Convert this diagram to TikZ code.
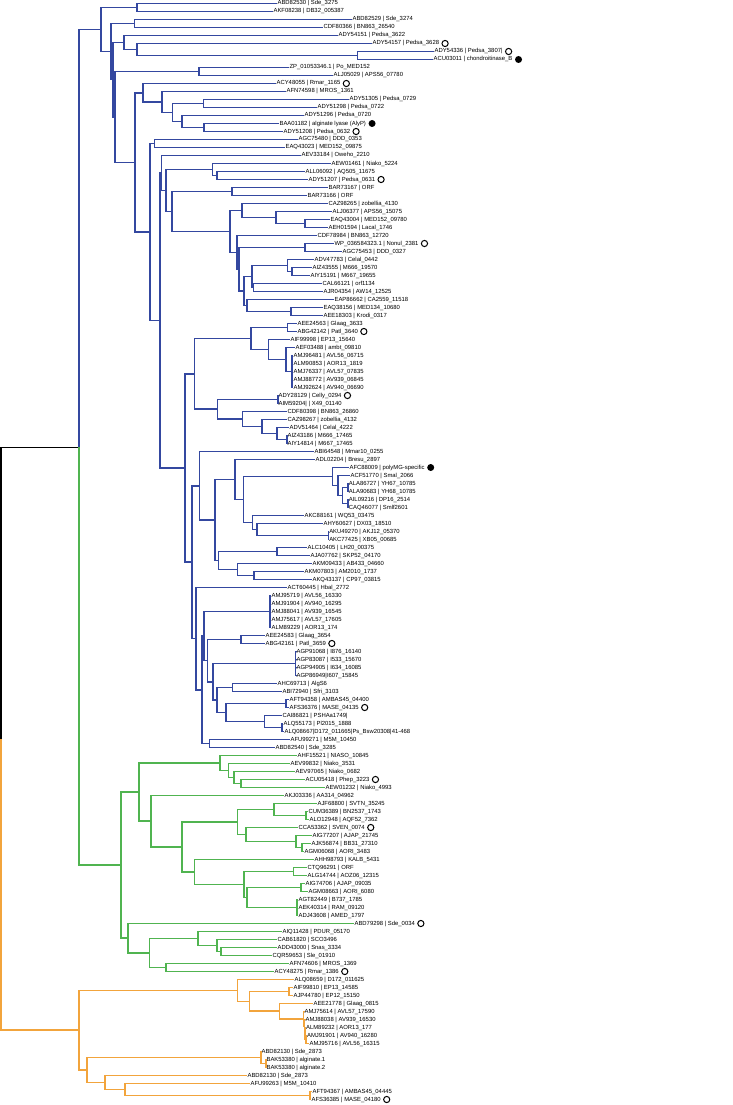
\documentclass[tikz,border=0pt]{standalone}
\usepackage{fontspec}
\setmainfont{Liberation Sans}
\usetikzlibrary{positioning}
\definecolor{cladeblue}{RGB}{52,72,160}
\definecolor{cladegreen}{RGB}{80,180,80}
\definecolor{cladeorange}{RGB}{242,164,60}
\tikzset{
    tip/.style={anchor=west, inner sep=0.4pt, text height=4.2pt, text depth=1.2pt,
        text=black, font=\fontsize{5.9}{6}\selectfont},
    bluebr/.style={draw=cladeblue, line width=1.6pt},
    greenbr/.style={draw=cladegreen, line width=1.6pt},
    orangebr/.style={draw=cladeorange, line width=1.6pt},
    rootbr/.style={draw=black, line width=1.6pt},
    openmark/.style={circle, draw=black, line width=1pt, minimum size=6.2pt, inner sep=0pt},
    fullmark/.style={circle, fill=black, minimum size=7pt, inner sep=0pt}
}
\begin{document}
\begin{tikzpicture}[x=1pt, y=-1pt]
    \useasboundingbox (0,0) rectangle (732,1105);
    \begin{scope}[yshift=0.2pt]
    % Hojas (index / tip x / label)
    \foreach \i/\tx/\lab in {
        1/277/{ABD82530 | Sde\_3275}, 2/273/{AKF08238 | DB32\_005387},
        3/352/{ABD82529 | Sde\_3274}, 4/323/{CDF80366 | BN863\_26540},
        5/338/{ADY54151 | Pedsa\_3622}, 6/372/{ADY54157 | Pedsa\_3628},
        7/434/{ADY54336 | Pedsa\_3807|}, 8/433/{ACU03011 | chondroitinase\_B},
        9/289/{ZP\_01053346.1 | Po\_MED152}, 10/333/{ALJ05029 | APS56\_07780},
        11/276/{ACY48055 | Rmar\_1165}, 12/286/{AFN74598 | MROS\_1361},
        13/349/{ADY51305 | Pedsa\_0729}, 14/317/{ADY51298 | Pedsa\_0722},
        15/304/{ADY51296 | Pedsa\_0720}, 16/279/{BAA01182 | alginate lyase (AlyP)},
        17/283/{ADY51208 | Pedsa\_0632}, 18/298/{AGC75480 | DDD\_0353},
        19/285/{EAQ43023 | MED152\_09875}, 20/301/{AEV33184 | Oweho\_2210},
        21/331/{AEW01461 | Niako\_5224}, 22/305/{ALL06092 | AQ505\_11675},
        23/308/{ADY51207 | Pedsa\_0631}, 24/328/{BAR73167 | ORF},
        25/307/{BAR73166 | ORF}, 26/328/{CAZ98265 | zobellia\_4130},
        27/332/{ALJ06377 | APS56\_15075}, 28/330/{EAQ43004 | MED152\_09780},
        29/328/{AEH01594 | Lacal\_1746}, 30/317/{CDF78984 | BN863\_12720},
        31/334/{WP\_036584323.1 | Nonul\_2381}, 32/342/{AGC75453 | DDD\_0327},
        33/314/{ADV47783 | Celal\_0442}, 34/312/{AIZ43555 | M666\_19570},
        35/310/{AIY15191 | M667\_19655}, 36/322/{CAL66121 | orf1134},
        37/323/{AJR04354 | AW14\_12525}, 38/334/{EAP86662 | CA2559\_11518},
        39/323/{EAQ38156 | MED134\_10680}, 40/323/{AEE18303 | Krodi\_0317},
        41/297/{AEE24563 | Glaag\_3633}, 42/297/{ABG42142 | Patl\_3640},
        43/290/{AIF99998 | EP13\_15640}, 44/295/{AEF03488 | ambt\_09810},
        45/293/{AMJ96481 | AVL56\_06715}, 46/293/{ALM90853 | AOR13\_1819},
        47/293/{AMJ76337 | AVL57\_07835}, 48/293/{AMJ88772 | AV939\_06845},
        49/293/{AMJ92624 | AV940\_06690}, 50/278/{ADY28129 | Celly\_0294},
        51/278/{AIM59204| | X49\_01140}, 52/287/{CDF80398 | BN863\_26860},
        53/287/{CAZ98267 | zobellia\_4132}, 54/289/{ADV51464 | Celal\_4222},
        55/287/{AIZ43186 | M666\_17465}, 56/287/{AIY14814 | M667\_17465},
        57/314/{ABI64548 | Mmar10\_0255}, 58/315/{ADL02204 | Bresu\_2897},
        59/349/{AFC88009 | polyMG-specific}, 60/350/{ACF51770 | Smal\_2066},
        61/348.3/{ALA86727 | YH67\_10785}, 62/348.3/{ALA90683 | YH68\_10785},
        63/348.3/{AIL09216 | DP16\_2514}, 64/348.3/{CAQ46077 | Smlf2601},
        65/304/{AKC88161 | WQ53\_03475}, 66/323/{AHY60627 | DX03\_18510},
        67/328.7/{AKU49270 | AKJ12\_05370}, 68/328.7/{AKC77425 | XB05\_00685},
        69/307/{ALC10405 | LH20\_00375}, 70/310/{AJA07762 | SKP52\_04170},
        71/312/{AKM09433 | AB433\_04660}, 72/304/{AKM07803 | AM2010\_1737},
        73/312/{AKQ43137 | CP97\_03815}, 74/287/{ACT60445 | Hbal\_2772},
        75/271/{AMJ95719 | AVL56\_16330}, 76/271/{AMJ91904 | AV940\_16295},
        77/271/{AMJ88041 | AV939\_16545}, 78/271/{AMJ75617 | AVL57\_17605},
        79/271/{ALM89229 | AOR13\_174}, 80/265/{AEE24583 | Glaag\_3654},
        81/265/{ABG42161 | Patl\_3659}, 82/296/{AGP91068 | I876\_16140},
        83/296/{AGP83087 | I533\_15670}, 84/296/{AGP94905 | I634\_16085},
        85/296/{AGP86949|I607\_15845}, 86/277/{AHC69713 | AlgS6},
        87/282/{ABI72940 | Sfri\_3103}, 88/289/{AFT94358 | AMBAS45\_04400},
        89/289/{AFS36376 | MASE\_04135}, 90/282/{CAI86821 | PSHAa1749|},
        91/283/{ALQ55173 | Pl2015\_1888}, 92/284/{ALQ08667|D172\_011665|Ps\_Bsw20308|41-468},
        93/290/{AFU99271 | M5M\_10450}, 94/275/{ABD82540 | Sde\_3285},
        95/297/{AHF15521 | NIASO\_10845}, 96/290/{AEV99832 | Niako\_3531},
        97/295/{AEV97065 | Niako\_0682}, 98/305/{ACU05418 | Phep\_3223},
        99/325/{AEW01232 | Niako\_4993}, 100/284/{AKJ03336 | AA314\_04962},
        101/317/{AJF68800 | SVTN\_35245}, 102/308/{CUM36389 | BN2537\_1743},
        103/309/{ALO12948 | AQF52\_7362}, 104/298/{CCA53362 | SVEN\_0074},
        105/312/{AIG77207 | AJAP\_21745}, 106/311/{AJK56874 | BB31\_27310},
        107/304/{AGM06068 | AORI\_3483}, 108/314/{AHH98793 | KALB\_5431},
        109/307/{CTQ96291 | ORF}, 110/307/{ALG14744 | AOZ06\_12315},
        111/305/{AIG74706 | AJAP\_09035}, 112/308/{AGM08663 | AORI\_6080},
        113/298/{AGT82449 | B737\_1785}, 114/298/{AEK40314 | RAM\_09120},
        115/298/{ADJ43608 | AMED\_1797}, 116/354/{ABD79298 | Sde\_0034},
        117/282/{AIQ11428 | PDUR\_05170}, 118/277/{CAB61820 | SCO3496},
        119/277/{ADD43000 | Snas\_3334}, 120/272/{CQR59653 | Sle\_01910},
        121/289/{AFN74606 | MROS\_1369}, 122/274/{ACY48275 | Rmar\_1386},
        123/294/{ALQ08659 | D172\_011625}, 124/293/{AIF99810 | EP13\_14585},
        125/293/{AJP44780 | EP12\_15150}, 126/313/{AEE21778 | Glaag\_0815},
        127/304/{AMJ75614 | AVL57\_17590}, 128/305/{AMJ88038 | AV939\_16530},
        129/305.5/{ALM89232 | AOR13\_177}, 130/306.5/{AMJ91901 | AV940\_16280},
        131/309/{AMJ95716 | AVL56\_16315}, 132/261/{ABD82130 | Sde\_2873},
        133/266/{BAK53380 | alginate.1}, 134/266/{BAK53380 | alginate.2},
        135/247/{ABD82130 | Sde\_2873}, 136/250/{AFU99263 | M5M\_10410},
        137/312/{AFT94367 | AMBAS45\_04445}, 138/311/{AFS36385 | MASE\_04180}}
        \node[tip] (l\i) at (\tx, {8*\i-4.3}) {\lab};
    % Marcas
    \foreach \i in {6,7,11,17,23,31,42,50,81,89,98,104,116,122,138}
        \node[openmark, right=1.8pt of l\i] (m\i) {};
    \foreach \i in {8,16,59}
        \node[fullmark, right=1.8pt of l\i] (m\i) {};
    % Nodos internos (name / x / y)
    \foreach \nm/\nx/\ny in {
        root/1/739, r1x122/79/447.6, r123x138/79/1030.4,
        r1x94/100.7/29.75, r1x2/136.7/7.7, r3x94/111/51.8, r3x4/134.3/23.7,
        r5x94/113/79.9, r5x8/124/42.7, r6x8/136.7/49.7, r7x8/357.3/55.7,
        r9x94/115/117.1, r9x10/199/71.7, r11x94/135/162.6,
        r11x17/142.7/92.95, r12x17/161.7/102.2, r13x17/172.3/112.7,
        r13x14/203.3/103.7, r15x17/181.7/121.7, r16x17/204/127.7,
        r18x94/150/232.2, r18x19/154.3/143.7, r20x94/160/320.7,
        r20x40/161.5/173.2, r21x40/165.7/190.7, r21x23/212.3/169.7, r22x23/216.7/175.7,
        r24x40/171.7/211.7, r24x25/231.7/191.7, r26x40/230/231.6,
        r26x29/241.7/210.7, r27x29/276/217.7, r28x29/305/223.7,
        r30x40/236.7/252.6, r31x40/238.7/269.45, r31x32/305/247.7,
        r33x40/244/291.2, r33x37/251.7/276.7, r33x35/287.3/265.7, r34x35/291.7/271.7,
        r36x37/253.3/287.7, r38x40/247/305.7, r39x40/290.7/311.7,
        r41x94/185/468.25, r41x56/194.3/374.1, r41x49/250.7/338.7, r41x42/287.3/327.7,
        r43x49/268.3/349.7, r44x49/286/359.7, r45x49/292/371.7,
        r50x56/217.3/409.45, r50x51/277.7/399.7, r52x56/242.3/419.2,
        r53x56/261.7/426.7, r54x56/276.7/433.7, r55x56/286.7/439.7,
        r57x94/191.7/562.4, r57x73/199.3/485.95, r58x73/215/520.2,
        r58x68/235/479.7, r59x68/243.3/499.7, r59x64/332.3/476.7, r60x64/337.7/485.7,
        r61x64/342.3/495.7, r61x62/347.7/487.7, r63x64/347.7/503.7,
        r65x68/252.3/522.7, r66x68/256.7/529.7, r67x68/328.3/535.7,
        r69x73/218.3/560.7, r69x70/276.7/551.7, r71x73/237.3/569.7, r72x73/254/575.7,
        r74x94/196/638.85, r75x94/201.7/690, r75x92/204/636.3, r75x79/270/611.7,
        r80x92/207.3/660.8, r80x81/241/639.7, r82x92/212.7/681.95, r82x85/295.5/663.7,
        r86x92/216.7/700.2, r86x87/232.3/687.7, r88x92/225.7/712.7, r88x89/286/703.7,
        r90x92/264.3/721.7, r91x92/281.7/727.7, r93x94/209.3/743.7,
        r95x122/120.7/865.4, r95x115/139/792.3, r95x99/220/763.2, r96x99/228.3/770.7,
        r97x99/234/777.7, r98x99/240.7/783.7, r100x115/150.7/821.45,
        r101x115/181.7/847.2, r101x107/237.3/822.2, r101x103/274/809.7,
        r102x103/306/815.7, r104x107/246/834.7, r105x107/295.7/841.7,
        r106x107/301.7/847.7, r108x115/194.3/872.2, r109x115/244/884.7,
        r109x110/293.3/871.7, r111x115/246.7/897.7, r111x112/301/887.7,
        r113x115/296.7/907.7, r116x122/127.7/938.45, r117x122/149.3/953.2,
        r117x120/197.7/938.7, r118x120/216.7/945.7, r119x120/221/951.7,
        r121x122/166/967.7,
        r123x131/237.3/990.6, r124x131/249.3/1001.6, r124x125/288.7/991.7,
        r126x131/279.3/1011.45, r127x131/303.5/1019.2, r128x131/304.5/1026.7,
        r129x131/305/1033.7, r130x131/306/1039.7, r132x138/86.7/1070.2,
        r132x134/260.7/1057.7, r133x134/265.7/1063.7, r135x138/105/1082.7,
        r136x138/125/1089.7, r137x138/310/1095.7}
        \coordinate (\nm) at (\nx,\ny);
    % Raiz
    \draw[rootbr] (root) |- (r1x122);
    \draw[orangebr] (root) |- (r123x138);
    \draw[bluebr] (r1x122) |- (r1x94);
    \draw[greenbr] (r1x122) |- (r95x122);
    % Clado azul
    \foreach \p/\c in {
        r1x94/r1x2, r1x94/r3x94, r1x2/l1, r1x2/l2,
        r3x94/r3x4, r3x94/r5x94, r3x4/l3, r3x4/l4,
        r5x94/r5x8, r5x94/r9x94, r5x8/l5, r5x8/r6x8, r6x8/l6, r6x8/r7x8, r7x8/l7, r7x8/l8,
        r9x94/r9x10, r9x94/r11x94, r9x10/l9, r9x10/l10,
        r11x94/r11x17, r11x94/r18x94,
        r11x17/l11, r11x17/r12x17, r12x17/l12, r12x17/r13x17,
        r13x17/r13x14, r13x17/r15x17, r13x14/l13, r13x14/l14,
        r15x17/l15, r15x17/r16x17, r16x17/l16, r16x17/l17,
        r18x94/r18x19, r18x94/r20x94, r18x19/l18, r18x19/l19,
        r20x94/r20x40, r20x94/r41x94, r20x40/l20, r20x40/r21x40,
        r21x40/r21x23, r21x40/r24x40, r21x23/l21, r21x23/r22x23, r22x23/l22, r22x23/l23,
        r24x40/r24x25, r24x40/r26x40, r24x25/l24, r24x25/l25,
        r26x40/r26x29, r26x40/r30x40, r26x29/l26, r26x29/r27x29,
        r27x29/l27, r27x29/r28x29, r28x29/l28, r28x29/l29,
        r30x40/l30, r30x40/r31x40, r31x40/r31x32, r31x40/r33x40, r31x32/l31, r31x32/l32,
        r33x40/r33x37, r33x40/r38x40, r33x37/r33x35, r33x37/r36x37,
        r33x35/l33, r33x35/r34x35, r34x35/l34, r34x35/l35, r36x37/l36, r36x37/l37,
        r38x40/l38, r38x40/r39x40, r39x40/l39, r39x40/l40,
        r41x94/r41x56, r41x94/r57x94, r41x56/r41x49, r41x56/r50x56,
        r41x49/r41x42, r41x49/r43x49, r41x42/l41, r41x42/l42,
        r43x49/l43, r43x49/r44x49, r44x49/l44, r44x49/r45x49,
        r45x49/l45, r45x49/l46, r45x49/l47, r45x49/l48, r45x49/l49,
        r50x56/r50x51, r50x56/r52x56, r50x51/l50, r50x51/l51,
        r52x56/l52, r52x56/r53x56, r53x56/l53, r53x56/r54x56,
        r54x56/l54, r54x56/r55x56, r55x56/l55, r55x56/l56,
        r57x94/r57x73, r57x94/r74x94, r57x73/l57, r57x73/r58x73,
        r58x73/r58x68, r58x73/r69x73, r58x68/l58, r58x68/r59x68,
        r59x68/r59x64, r59x68/r65x68, r59x64/l59, r59x64/r60x64,
        r60x64/l60, r60x64/r61x64, r61x64/r61x62, r61x64/r63x64,
        r61x62/l61, r61x62/l62, r63x64/l63, r63x64/l64,
        r65x68/l65, r65x68/r66x68, r66x68/l66, r66x68/r67x68, r67x68/l67, r67x68/l68,
        r69x73/r69x70, r69x73/r71x73, r69x70/l69, r69x70/l70,
        r71x73/l71, r71x73/r72x73, r72x73/l72, r72x73/l73,
        r74x94/l74, r74x94/r75x94, r75x94/r75x92, r75x94/r93x94,
        r75x92/r75x79, r75x92/r80x92,
        r75x79/l75, r75x79/l76, r75x79/l77, r75x79/l78, r75x79/l79,
        r80x92/r80x81, r80x92/r82x92, r80x81/l80, r80x81/l81,
        r82x92/r82x85, r82x92/r86x92,
        r82x85/l82, r82x85/l83, r82x85/l84, r82x85/l85,
        r86x92/r86x87, r86x92/r88x92, r86x87/l86, r86x87/l87,
        r88x92/r88x89, r88x92/r90x92, r88x89/l88, r88x89/l89,
        r90x92/l90, r90x92/r91x92, r91x92/l91, r91x92/l92,
        r93x94/l93, r93x94/l94}
        \draw[bluebr] (\p) |- (\c);
    % Clado verde
    \foreach \p/\c in {
        r95x122/r95x115, r95x122/r116x122, r95x115/r95x99, r95x115/r100x115,
        r95x99/l95, r95x99/r96x99, r96x99/l96, r96x99/r97x99,
        r97x99/l97, r97x99/r98x99, r98x99/l98, r98x99/l99,
        r100x115/l100, r100x115/r101x115, r101x115/r101x107, r101x115/r108x115,
        r101x107/r101x103, r101x107/r104x107, r101x103/l101, r101x103/r102x103,
        r102x103/l102, r102x103/l103,
        r104x107/l104, r104x107/r105x107, r105x107/l105, r105x107/r106x107,
        r106x107/l106, r106x107/l107,
        r108x115/l108, r108x115/r109x115, r109x115/r109x110, r109x115/r111x115,
        r109x110/l109, r109x110/l110, r111x115/r111x112, r111x115/r113x115,
        r111x112/l111, r111x112/l112, r113x115/l113, r113x115/l114, r113x115/l115,
        r116x122/l116, r116x122/r117x122, r117x122/r117x120, r117x122/r121x122,
        r117x120/l117, r117x120/r118x120, r118x120/l118, r118x120/r119x120,
        r119x120/l119, r119x120/l120, r121x122/l121, r121x122/l122}
        \draw[greenbr] (\p) |- (\c);
    % Clado naranja
    \foreach \p/\c in {
        r123x138/r123x131, r123x138/r132x138, r123x131/l123, r123x131/r124x131,
        r124x131/r124x125, r124x131/r126x131, r124x125/l124, r124x125/l125,
        r126x131/l126, r126x131/r127x131, r127x131/l127, r127x131/r128x131,
        r128x131/l128, r128x131/r129x131, r129x131/l129, r129x131/r130x131,
        r130x131/l130, r130x131/l131,
        r132x138/r132x134, r132x138/r135x138, r132x134/l132, r132x134/r133x134,
        r133x134/l133, r133x134/l134,
        r135x138/l135, r135x138/r136x138, r136x138/l136, r136x138/r137x138,
        r137x138/l137, r137x138/l138}
        \draw[orangebr] (\p) |- (\c);
    \end{scope}
\end{tikzpicture}
\end{document}
